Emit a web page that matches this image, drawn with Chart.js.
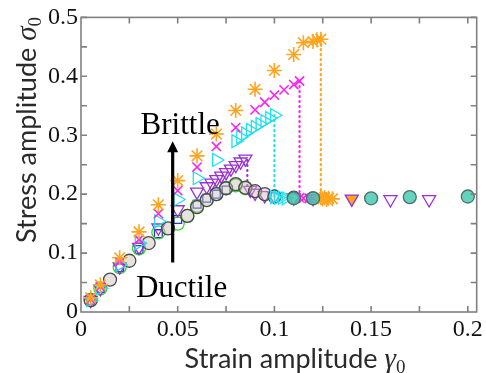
<!DOCTYPE html>
<html>
<head>
<meta charset="utf-8">
<script src="https://cdn.jsdelivr.net/npm/chart.js@4.4.1/dist/chart.umd.min.js"></script>
<style>
  html, body { margin: 0; padding: 0; background: #fff; }
  canvas { display: block; }
</style>
</head>
<body>
<canvas id="chart" width="486" height="373"></canvas>
<script>
// ---------- data ----------
const X_TICKS = [0, 0.05, 0.1, 0.15, 0.2];
const X_TICK_LABELS = ['0', '0.05', '0.1', '0.15', '0.2'];
const Y_TICKS = [0, 0.1, 0.2, 0.3, 0.4, 0.5];
const Y_TICK_LABELS = ['0', '0.1', '0.2', '0.3', '0.4', '0.5'];

// orange asterisks (most brittle)
const ORANGE_X = [0.005, 0.01, 0.02, 0.03, 0.04, 0.05, 0.06, 0.07, 0.08, 0.09, 0.1, 0.11, 0.115, 0.12, 0.122, 0.124, 0.124, 0.125, 0.126, 0.127, 0.128, 0.13];
const ORANGE_Y = [0.024, 0.046, 0.092, 0.136, 0.182, 0.223, 0.265, 0.302, 0.342, 0.378, 0.41, 0.437, 0.457, 0.459, 0.462, 0.463, 0.194, 0.192, 0.194, 0.191, 0.193, 0.192];
// magenta crosses
const MAGENTA_X = [0.005, 0.01, 0.02, 0.03, 0.04, 0.05, 0.06, 0.07, 0.08, 0.09, 0.095, 0.1, 0.105, 0.11, 0.113, 0.113, 0.115, 0.118, 0.12];
const MAGENTA_Y = [0.022, 0.043, 0.085, 0.123, 0.167, 0.206, 0.246, 0.281, 0.313, 0.343, 0.356, 0.368, 0.377, 0.386, 0.392, 0.194, 0.193, 0.193, 0.193];
// cyan right triangles
const CYAN_X = [0.005, 0.01, 0.02, 0.03, 0.04, 0.05, 0.06, 0.07, 0.08, 0.0825, 0.085, 0.0875, 0.09, 0.0925, 0.095, 0.0975, 0.1, 0.1, 0.102, 0.104, 0.106];
const CYAN_Y = [0.02, 0.04, 0.08, 0.117, 0.154, 0.191, 0.227, 0.258, 0.29, 0.297, 0.303, 0.309, 0.314, 0.319, 0.324, 0.329, 0.334, 0.195, 0.194, 0.194, 0.193];
// purple down triangles
const PURPLE_X = [0.005, 0.01, 0.02, 0.03, 0.04, 0.05, 0.06, 0.065, 0.0675, 0.07, 0.0725, 0.075, 0.0775, 0.08, 0.0825, 0.085, 0.0875, 0.09, 0.095, 0.1, 0.11, 0.12, 0.16, 0.18];
const PURPLE_Y = [0.02, 0.04, 0.077, 0.11, 0.143, 0.174, 0.204, 0.213, 0.219, 0.225, 0.231, 0.237, 0.243, 0.249, 0.255, 0.26, 0.207, 0.202, 0.198, 0.196, 0.194, 0.193, 0.191, 0.191];
// blue squares
const BLUE_X = [0.005, 0.01, 0.02, 0.03, 0.04, 0.05, 0.06, 0.065, 0.07, 0.075];
const BLUE_Y = [0.019, 0.04, 0.075, 0.106, 0.133, 0.157, 0.183, 0.193, 0.2, 0.207];
// green circles
const GREEN_X = [0.005, 0.01, 0.02, 0.03, 0.04, 0.05, 0.055, 0.06, 0.065, 0.07, 0.075, 0.08, 0.085];
const GREEN_Y = [0.02, 0.04, 0.076, 0.108, 0.135, 0.15, 0.163, 0.18, 0.19, 0.2, 0.21, 0.215, 0.21];
// grey circles (ductile)
const GREY_X = [0.005, 0.015, 0.025, 0.035, 0.045, 0.055, 0.06, 0.065, 0.07, 0.075, 0.08, 0.085, 0.09, 0.095, 0.1, 0.11, 0.12];
const GREY_Y = [0.02, 0.055, 0.087, 0.117, 0.142, 0.163, 0.178, 0.19, 0.2, 0.21, 0.217, 0.211, 0.205, 0.2, 0.196, 0.194, 0.193];
// teal circles on the plateau
const TEAL_X = [0.11, 0.12, 0.15, 0.17, 0.2];
const TEAL_Y = [0.193, 0.193, 0.193, 0.195, 0.196];
// orange triangle on the plateau
const ORANGE_TRI_X = [0.14];
const ORANGE_TRI_Y = [0.192];

// dotted drops: [x, yTop, yBottom]
const DROP_CYAN = [0.1, 0.334, 0.195];
const DROP_MAGENTA = [0.113, 0.392, 0.194];
const DROP_ORANGE = [0.124, 0.463, 0.194];
const DROP_PURPLE = [0.086, 0.258, 0.212];

// arrow and its labels
const ARROW_X = 0.0474;
const ARROW_Y = [0.084, 0.29];
const BRITTLE_POS = [0.0513, 0.3025];
const DUCTILE_POS = [0.052, 0.0257];

// ---------- helpers ----------
const pts = (xs, ys) => xs.map((x, i) => ({ x, y: ys[i] }));
const drop = d => [{ x: d[0], y: d[1] }, { x: d[0], y: d[2] }];

function marks(data, color, style, extra) {
  return Object.assign({
    data, pointStyle: style, pointRadius: 6.5, pointBorderWidth: 1.3,
    borderColor: color, pointBorderColor: color,
    backgroundColor: 'rgba(255,255,255,0)', pointBackgroundColor: 'rgba(255,255,255,0)',
    showLine: false,
  }, extra || {});
}
function dotted(data, color) {
  return {
    data, showLine: true, borderColor: color, borderWidth: 2.2,
    borderDash: [1, 4], borderCapStyle: 'round', pointRadius: 0, order: 20,
  };
}

const SERIF = "'Liberation Serif', serif";
const SANS = "Lato, 'Open Sans', sans-serif";
Chart.defaults.font.family = SERIF;

function drawParts(ctx, parts, cx, baseline, rot) {
  ctx.save();
  ctx.translate(cx, baseline);
  ctx.rotate(rot);
  let total = 0;
  parts.forEach(p => { ctx.font = p.font; p.w = ctx.measureText(p.text).width; total += p.w; });
  let x = -total / 2;
  ctx.textBaseline = 'alphabetic';
  ctx.textAlign = 'left';
  ctx.fillStyle = '#2a2a2a';
  parts.forEach(p => { ctx.font = p.font; ctx.fillText(p.text, x, p.dy || 0); x += p.w; });
  ctx.restore();
}

// frame with inward ticks, arrow, text labels, axis titles
const decor = {
  id: 'decor',
  afterDraw(chart) {
    const { ctx, chartArea: a, scales: { x, y } } = chart;
    ctx.save();
    ctx.strokeStyle = '#808080';
    ctx.lineWidth = 1.6;
    ctx.strokeRect(a.left, a.top, a.right - a.left, a.bottom - a.top);
    ctx.beginPath();
    for (let v = 0.025; v < 0.2046; v += 0.025) {
      const px = x.getPixelForValue(v);
      ctx.moveTo(px, a.bottom); ctx.lineTo(px, a.bottom - 6);
      ctx.moveTo(px, a.top); ctx.lineTo(px, a.top + 6);
    }
    for (let v = 0.05; v < 0.5; v += 0.05) {
      const py = y.getPixelForValue(v);
      ctx.moveTo(a.left, py); ctx.lineTo(a.left + 6, py);
      ctx.moveTo(a.right, py); ctx.lineTo(a.right - 6, py);
    }
    ctx.stroke();

    // arrow
    const ax = x.getPixelForValue(ARROW_X);
    const ay0 = y.getPixelForValue(ARROW_Y[0]);
    const ay1 = y.getPixelForValue(ARROW_Y[1]);
    ctx.strokeStyle = '#000';
    ctx.fillStyle = '#000';
    ctx.lineWidth = 3.2;
    ctx.beginPath();
    ctx.moveTo(ax, ay0); ctx.lineTo(ax, ay1 + 8);
    ctx.stroke();
    ctx.beginPath();
    ctx.moveTo(ax, ay1); ctx.lineTo(ax - 5.5, ay1 + 11); ctx.lineTo(ax + 5.5, ay1 + 11);
    ctx.closePath(); ctx.fill();

    // labels
    ctx.font = '31px ' + SERIF;
    ctx.textAlign = 'center';
    ctx.textBaseline = 'alphabetic';
    ctx.fillText('Brittle', x.getPixelForValue(BRITTLE_POS[0]), y.getPixelForValue(BRITTLE_POS[1]));
    ctx.fillText('Ductile', x.getPixelForValue(DUCTILE_POS[0]), y.getPixelForValue(DUCTILE_POS[1]));
    ctx.restore();

    // axis titles
    drawParts(ctx, [
      { text: 'Strain amplitude ', font: '27px ' + SANS },
      { text: 'γ', font: 'italic 29px ' + SERIF },
      { text: '0', font: '19px ' + SERIF, dy: 5 },
    ], 295, 368, 0);
    drawParts(ctx, [
      { text: 'Stress amplitude ', font: '27px ' + SANS },
      { text: 'σ', font: 'italic 29px ' + SERIF },
      { text: '0', font: '19px ' + SERIF, dy: 5 },
    ], 36, 130, -Math.PI / 2);
  }
};

const ORANGE = '#ffa41f';
const MAGENTA = '#ff22ee';
const CYAN = '#22e0ee';
const PURPLE = '#9a2fd6';

new Chart(document.getElementById('chart'), {
  type: 'scatter',
  data: {
    datasets: [
      dotted(drop(DROP_CYAN), CYAN),
      dotted(drop(DROP_MAGENTA), MAGENTA),
      dotted(drop(DROP_ORANGE), ORANGE),
      dotted(drop(DROP_PURPLE), PURPLE),
      marks(pts(BLUE_X, BLUE_Y), '#2a36c8', 'rect', { pointRadius: 5.5, order: 9 }),
      marks(pts(GREEN_X, GREEN_Y), '#3ad03a', 'circle', { order: 8 }),
      marks(pts(PURPLE_X, PURPLE_Y), PURPLE, 'triangle', { pointRadius: 7.5, rotation: 180, order: 7 }),
      marks(pts(GREY_X, GREY_Y), '#4a4a4a', 'circle', { pointRadius: 6.5, pointBackgroundColor: 'rgba(205,190,185,0.45)', order: 6 }),
      marks(pts(CYAN_X, CYAN_Y), CYAN, 'triangle', { pointRadius: 7.5, rotation: 90, order: 5 }),
      marks(pts(MAGENTA_X, MAGENTA_Y), MAGENTA, 'crossRot', { pointBorderWidth: 1.6, order: 4 }),
      marks(pts(ORANGE_X, ORANGE_Y), ORANGE, 'star', { pointRadius: 7.5, pointBorderWidth: 1.6, order: 3 }),
      marks(pts(TEAL_X, TEAL_Y), '#4f6f66', 'circle', { pointRadius: 6.5, pointBackgroundColor: 'rgba(60,200,175,0.8)', order: 2 }),
      marks(pts(ORANGE_TRI_X, ORANGE_TRI_Y), PURPLE, 'triangle', { pointRadius: 7.5, rotation: 180, pointBackgroundColor: ORANGE, order: 2 }),
    ]
  },
  options: {
    responsive: false,
    animation: false,
    layout: { padding: { top: 14, right: 6, left: 0, bottom: 0 } },
    plugins: { legend: { display: false }, tooltip: { enabled: false } },
    scales: {
      x: {
        type: 'linear', min: 0, max: 0.2046,
        grid: { display: false, drawTicks: false },
        border: { display: false },
        afterBuildTicks: s => { s.ticks = X_TICKS.map(v => ({ value: v })); },
        afterFit: s => { s.height = 61; },
        ticks: {
          padding: 3, color: '#111', maxRotation: 0, autoSkip: false,
          font: { family: SERIF, size: 24 },
          callback: (v, i) => X_TICK_LABELS[i],
        },
      },
      y: {
        type: 'linear', min: 0, max: 0.5,
        grid: { display: false, drawTicks: false },
        border: { display: false },
        afterBuildTicks: s => { s.ticks = Y_TICKS.map(v => ({ value: v })); },
        afterFit: s => { s.width = 81; },
        ticks: {
          padding: 3, color: '#111', autoSkip: false,
          font: { family: SERIF, size: 24 },
          callback: (v, i) => Y_TICK_LABELS[i],
        },
      },
    },
  },
  plugins: [decor],
});
</script>
</body>
</html>
